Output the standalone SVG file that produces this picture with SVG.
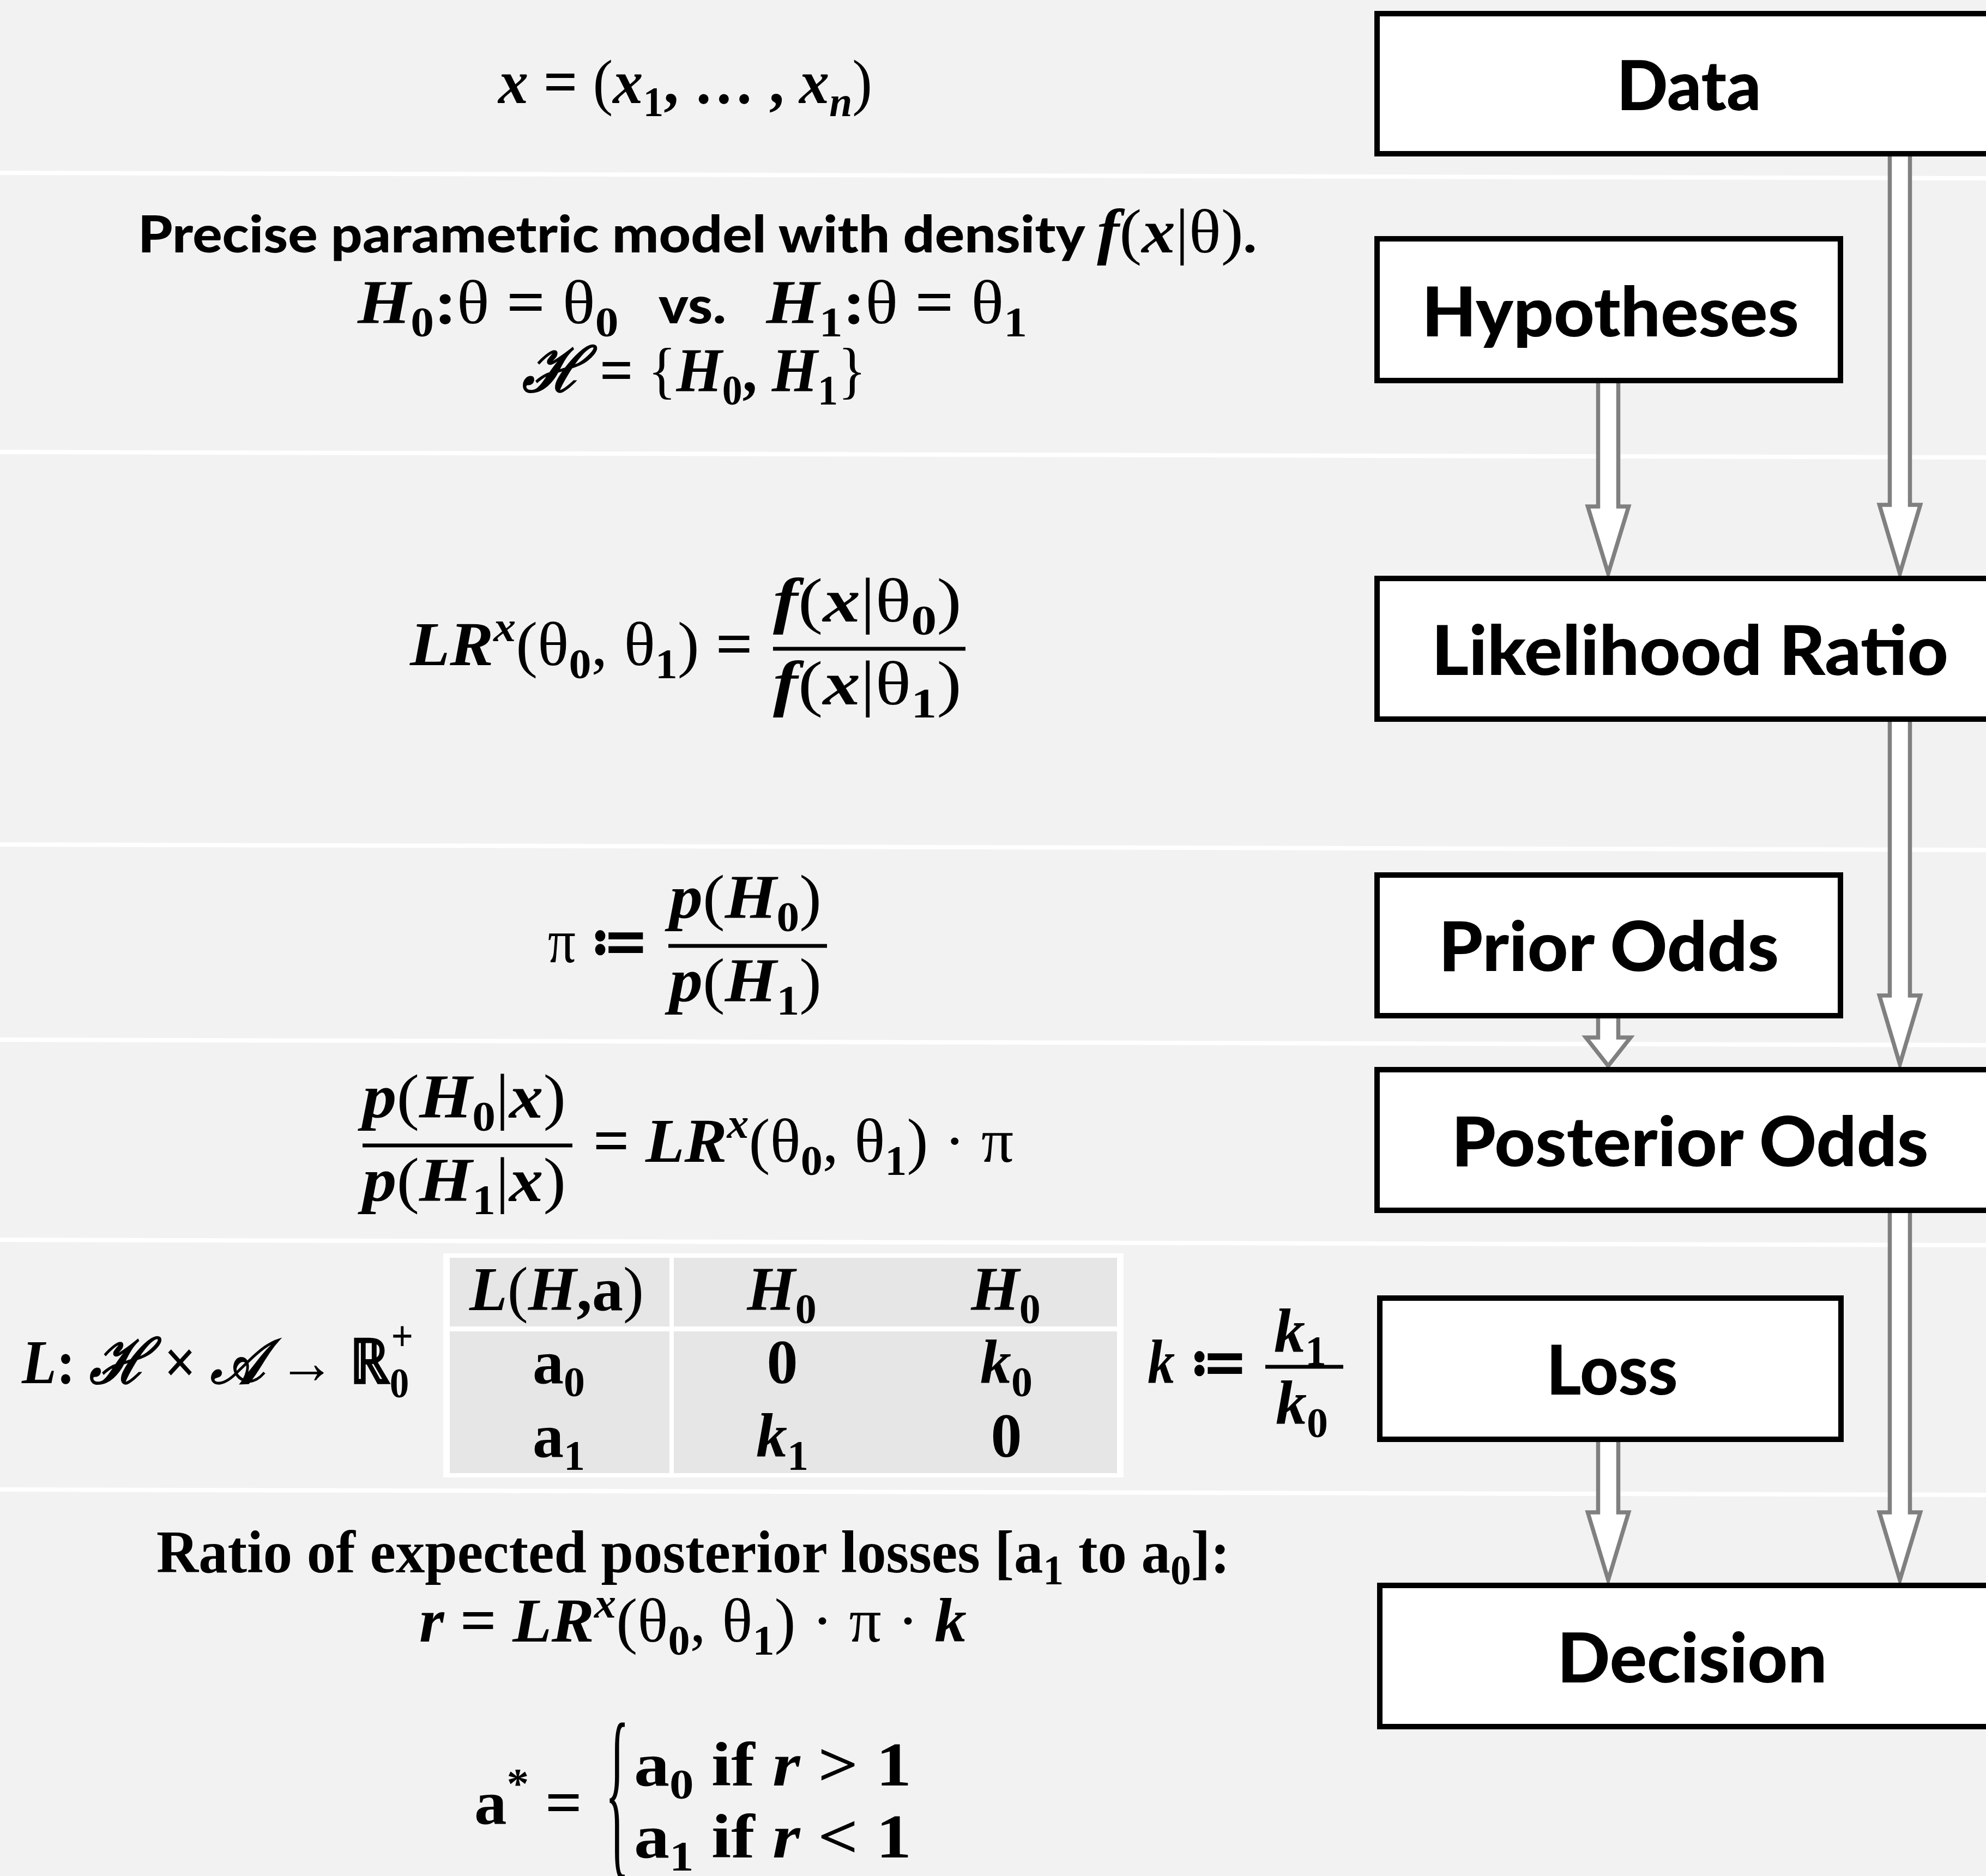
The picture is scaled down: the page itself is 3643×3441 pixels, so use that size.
<svg xmlns="http://www.w3.org/2000/svg" width="3643" height="3441" viewBox="0 0 3643 3441">
<style>
.sep{stroke:#fff;stroke-width:8}
.box{fill:#fff;stroke:#000;stroke-width:10}
.lbl{font-family:Lato,"Open Sans",sans-serif;font-weight:900;font-size:126px;text-anchor:middle;fill:#000}
.arr{fill:#fff;stroke:#808080;stroke-width:7.5}
.m{font-family:"Liberation Serif","DejaVu Serif",serif;font-size:114px;font-weight:700;fill:#000}
.bi{font-style:italic}
.r{font-weight:400}
.s{font-size:78px}
.sans{font-family:Lato,"Open Sans",sans-serif;font-weight:900;font-size:94px}
.bar{stroke:#000;stroke-width:7}
.cw{fill:#fff}
.cell{fill:#e6e6e6}
.mid{text-anchor:middle}
</style>
<rect x="0" y="0" width="3643" height="3441" fill="#f2f2f2"/>
<g id="separators">
<line class="sep" x1="0" y1="317" x2="3643" y2="327"/>
<line class="sep" x1="0" y1="829" x2="3643" y2="839"/>
<line class="sep" x1="0" y1="1549" x2="3643" y2="1559"/>
<line class="sep" x1="0" y1="1907" x2="3643" y2="1917"/>
<line class="sep" x1="0" y1="2274" x2="3643" y2="2284"/>
<line class="sep" x1="0" y1="2732" x2="3643" y2="2742"/>
</g>
<g id="connectors">
<polygon class="arr" points="3466.5,270 3503.5,270 3503.5,926 3522.5,926 3485,1052 3447.5,926 3466.5,926"/>
<polygon class="arr" points="2931.5,690 2968.5,690 2968.5,929 2987.5,929 2950,1052 2912.5,929 2931.5,929"/>
<polygon class="arr" points="3466.5,1310 3503.5,1310 3503.5,1826 3522.5,1826 3485,1952 3447.5,1826 3466.5,1826"/>
<polygon class="arr" points="2931.5,1855 2968.5,1855 2968.5,1903 2991,1903 2950,1955 2909,1903 2931.5,1903"/>
<polygon class="arr" points="3466.5,2210 3503.5,2210 3503.5,2774 3522.5,2774 3485,2898 3447.5,2774 3466.5,2774"/>
<polygon class="arr" points="2931.5,2630 2968.5,2630 2968.5,2774 2987.5,2774 2950,2898 2912.5,2774 2931.5,2774"/>
</g>
<g id="node-data"><rect class="box" x="2526" y="25" width="1148" height="257"/><text class="lbl" x="3098" y="202" textLength="265" lengthAdjust="spacingAndGlyphs">Data</text></g>
<g id="node-hypotheses"><rect class="box" x="2526" y="438" width="850" height="260"/><text class="lbl" x="2954" y="617" textLength="692" lengthAdjust="spacingAndGlyphs">Hypotheses</text></g>
<g id="node-likelihood"><rect class="box" x="2526" y="1061" width="1148" height="258"/><text class="lbl" x="3100" y="1238" textLength="948" lengthAdjust="spacingAndGlyphs">Likelihood Ratio</text></g>
<g id="node-prior"><rect class="box" x="2526" y="1605" width="850" height="258"/><text class="lbl" x="2951" y="1781" textLength="624" lengthAdjust="spacingAndGlyphs">Prior Odds</text></g>
<g id="node-posterior"><rect class="box" x="2526" y="1962" width="1148" height="258"/><text class="lbl" x="3100" y="2139" textLength="875" lengthAdjust="spacingAndGlyphs">Posterior Odds</text></g>
<g id="node-loss"><rect class="box" x="2531" y="2381" width="846" height="259"/><text class="lbl" x="2957" y="2558" textLength="241" lengthAdjust="spacingAndGlyphs">Loss</text></g>
<g id="node-decision"><rect class="box" x="2531" y="2908" width="1143" height="259"/><text class="lbl" x="3104" y="3086" textLength="495" lengthAdjust="spacingAndGlyphs">Decision</text></g>

<g id="formula-data">
<text class="m" x="914" y="189" textLength="686" lengthAdjust="spacingAndGlyphs"><tspan class="bi">x</tspan> = <tspan class="r">(</tspan><tspan class="bi">x</tspan><tspan class="s" dy="24">1</tspan><tspan dy="-24">, … , </tspan><tspan class="bi">x</tspan><tspan class="s bi" dy="24">n</tspan><tspan class="r" dy="-24">)</tspan></text>
</g>
<g id="formula-hypotheses">
<text class="m" x="253" y="463" textLength="2052" lengthAdjust="spacingAndGlyphs"><tspan class="sans">Precise parametric model with density </tspan><tspan class="bi">f</tspan><tspan class="r">(</tspan><tspan class="bi">x</tspan><tspan class="r">|θ)</tspan><tspan class="sans">.</tspan></text>
<text class="m" x="656" y="593" textLength="1228" lengthAdjust="spacingAndGlyphs"><tspan class="bi">H</tspan><tspan class="s" dy="24">0</tspan><tspan dy="-24">:</tspan><tspan class="r">θ</tspan> = <tspan class="r">θ</tspan><tspan class="s" dy="24">0</tspan><tspan class="sans" dy="-24">&#160;&#160;&#160;vs.&#160;&#160;&#160;</tspan><tspan class="bi">H</tspan><tspan class="s" dy="24">1</tspan><tspan dy="-24">:</tspan><tspan class="r">θ</tspan> = <tspan class="r">θ</tspan><tspan class="s" dy="24">1</tspan></text>
<text class="m" x="958" y="718" textLength="631" lengthAdjust="spacingAndGlyphs"><tspan class="bi">ℋ</tspan> = <tspan class="r">{</tspan><tspan class="bi">H</tspan><tspan class="s" dy="24">0</tspan><tspan dy="-24">, </tspan><tspan class="bi">H</tspan><tspan class="s" dy="24">1</tspan><tspan class="r" dy="-24">}</tspan></text>
</g>
<g id="formula-lr">
<text class="m" x="752" y="1220" textLength="629" lengthAdjust="spacingAndGlyphs"><tspan class="bi">LR</tspan><tspan class="s bi" dy="-44">x</tspan><tspan class="r" dy="44">(θ</tspan><tspan class="s" dy="24">0</tspan><tspan class="r" dy="-24">, θ</tspan><tspan class="s" dy="24">1</tspan><tspan class="r" dy="-24">)</tspan> =</text>
<text class="m" x="1418" y="1140" textLength="346" lengthAdjust="spacingAndGlyphs"><tspan class="bi">f</tspan><tspan class="r">(</tspan><tspan class="bi">x</tspan><tspan class="r">|θ</tspan><tspan class="s" dy="24">0</tspan><tspan class="r" dy="-24">)</tspan></text>
<line class="bar" x1="1418" y1="1190" x2="1771" y2="1190"/>
<text class="m" x="1418" y="1292" textLength="346" lengthAdjust="spacingAndGlyphs"><tspan class="bi">f</tspan><tspan class="r">(</tspan><tspan class="bi">x</tspan><tspan class="r">|θ</tspan><tspan class="s" dy="24">1</tspan><tspan class="r" dy="-24">)</tspan></text>
</g>
<g id="formula-prior">
<text class="m" x="1005" y="1765" textLength="185" lengthAdjust="spacingAndGlyphs"><tspan class="r">π </tspan>≔</text>
<text class="m" x="1228" y="1684" textLength="279" lengthAdjust="spacingAndGlyphs"><tspan class="bi">p</tspan><tspan class="r">(</tspan><tspan class="bi">H</tspan><tspan class="s" dy="24">0</tspan><tspan class="r" dy="-24">)</tspan></text>
<line class="bar" x1="1226" y1="1735" x2="1517" y2="1735"/>
<text class="m" x="1228" y="1837" textLength="279" lengthAdjust="spacingAndGlyphs"><tspan class="bi">p</tspan><tspan class="r">(</tspan><tspan class="bi">H</tspan><tspan class="s" dy="24">1</tspan><tspan class="r" dy="-24">)</tspan></text>
</g>
<g id="formula-posterior">
<text class="m" x="665" y="2050" textLength="373" lengthAdjust="spacingAndGlyphs"><tspan class="bi">p</tspan><tspan class="r">(</tspan><tspan class="bi">H</tspan><tspan class="s" dy="24">0</tspan><tspan class="r" dy="-24">|</tspan><tspan class="bi">x</tspan><tspan class="r">)</tspan></text>
<line class="bar" x1="665" y1="2101" x2="1050" y2="2101"/>
<text class="m" x="665" y="2203" textLength="373" lengthAdjust="spacingAndGlyphs"><tspan class="bi">p</tspan><tspan class="r">(</tspan><tspan class="bi">H</tspan><tspan class="s" dy="24">1</tspan><tspan class="r" dy="-24">|</tspan><tspan class="bi">x</tspan><tspan class="r">)</tspan></text>
<text class="m" x="1088" y="2131" textLength="771" lengthAdjust="spacingAndGlyphs">= <tspan class="bi">LR</tspan><tspan class="s bi" dy="-44">x</tspan><tspan class="r" dy="44">(θ</tspan><tspan class="s" dy="24">0</tspan><tspan class="r" dy="-24">, θ</tspan><tspan class="s" dy="24">1</tspan><tspan class="r" dy="-24">) · π</tspan></text>
</g>
<g id="formula-loss">
<text class="m" x="40" y="2537" textLength="718" lengthAdjust="spacingAndGlyphs"><tspan class="bi">L</tspan>: <tspan class="bi">ℋ</tspan> × <tspan class="bi">𝒜</tspan> → ℝ<tspan class="s" dy="26">0</tspan><tspan class="s" dx="-36" dy="-86">+</tspan></text>
<rect class="cw" x="813" y="2299" width="1248" height="411"/>
<rect class="cell" x="825" y="2307" width="403" height="126"/>
<rect class="cell" x="1236" y="2307" width="813" height="126"/>
<rect class="cell" x="825" y="2442" width="403" height="260"/>
<rect class="cell" x="1236" y="2442" width="813" height="260"/>
<text class="m mid" x="1021" y="2403"><tspan class="bi">L</tspan><tspan class="r">(</tspan><tspan class="bi">H</tspan>,a<tspan class="r">)</tspan></text>
<text class="m mid" x="1434" y="2403"><tspan class="bi">H</tspan><tspan class="s" dy="24">0</tspan></text>
<text class="m mid" x="1845" y="2403"><tspan class="bi">H</tspan><tspan class="s" dy="24">0</tspan></text>
<text class="m mid" x="1025" y="2537">a<tspan class="s" dy="24">0</tspan></text>
<text class="m mid" x="1435" y="2537">0</text>
<text class="m mid" x="1846" y="2537"><tspan class="bi">k</tspan><tspan class="s" dy="24">0</tspan></text>
<text class="m mid" x="1025" y="2672">a<tspan class="s" dy="24">1</tspan></text>
<text class="m mid" x="1435" y="2672"><tspan class="bi">k</tspan><tspan class="s" dy="24">1</tspan></text>
<text class="m mid" x="1846" y="2672">0</text>
<text class="m" x="2105" y="2537" textLength="184" lengthAdjust="spacingAndGlyphs"><tspan class="bi">k</tspan> ≔</text>
<text class="m mid" x="2385" y="2480"><tspan class="bi">k</tspan><tspan class="s" dy="24">1</tspan></text>
<line class="bar" x1="2321" y1="2507" x2="2464" y2="2507"/>
<text class="m mid" x="2388" y="2612"><tspan class="bi">k</tspan><tspan class="s" dy="24">0</tspan></text>
</g>
<g id="formula-decision">
<text class="m" x="287" y="2884" textLength="1969" lengthAdjust="spacingAndGlyphs" style="font-size:110px">Ratio of expected posterior losses [a<tspan class="s" dy="22">1</tspan><tspan dy="-22"> to a</tspan><tspan class="s" dy="22">0</tspan><tspan dy="-22">]:</tspan></text>
<text class="m" x="769" y="3011" textLength="1004" lengthAdjust="spacingAndGlyphs"><tspan class="bi">r</tspan> = <tspan class="bi">LR</tspan><tspan class="s bi" dy="-44">x</tspan><tspan class="r" dy="44">(θ</tspan><tspan class="s" dy="24">0</tspan><tspan class="r" dy="-24">, θ</tspan><tspan class="s" dy="24">1</tspan><tspan class="r" dy="-24">) · π · </tspan><tspan class="bi">k</tspan></text>
<text class="m" x="870" y="3345" textLength="198" lengthAdjust="spacingAndGlyphs">a<tspan class="s" dy="-48">*</tspan><tspan dy="48"> =</tspan></text>
<text class="m r" transform="translate(1110,3400) scale(0.28,1.05)" style="font-size:330px">{</text>
<text class="m" x="1163" y="3275" textLength="509" lengthAdjust="spacingAndGlyphs">a<tspan class="s" dy="24">0</tspan><tspan dy="-24"> if </tspan><tspan class="bi">r</tspan> &gt; 1</text>
<text class="m" x="1163" y="3407" textLength="509" lengthAdjust="spacingAndGlyphs">a<tspan class="s" dy="24">1</tspan><tspan dy="-24"> if </tspan><tspan class="bi">r</tspan> &lt; 1</text>
</g>
</svg>
